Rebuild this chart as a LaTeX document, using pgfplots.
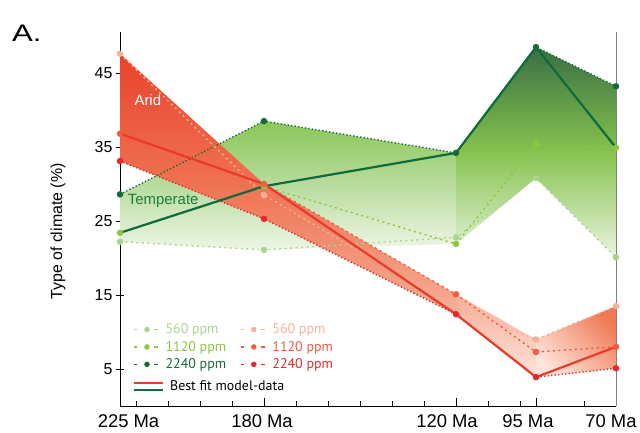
\documentclass[border=0pt]{standalone}
\usepackage{fontspec}
\setmainfont{Liberation Sans}
\newfontfamily\legfont{PT Sans}
\usepackage{pgfplots}
\usepackage{pgfplotstable}
\pgfplotsset{compat=1.18}

% series colours
\definecolor{gA}{HTML}{A9D48E}
\definecolor{gB}{HTML}{8DC63F}
\definecolor{gC}{HTML}{17693A}
\definecolor{rA}{HTML}{F6B09A}
\definecolor{rB}{HTML}{EF5C40}
\definecolor{rC}{HTML}{E8262B}
\definecolor{gFit}{HTML}{0F6B3B}
\definecolor{rFit}{HTML}{EA3A2C}
\definecolor{tempText}{HTML}{1F7A3C}
% shading colours
\definecolor{gS1}{HTML}{8BC657}
\definecolor{gS2}{HTML}{B8DC9E}
\definecolor{gS3}{HTML}{EEF6E6}
\definecolor{gT1}{HTML}{386F44}
\definecolor{gT2}{HTML}{86C34E}
\definecolor{gT3}{HTML}{EAF4E0}
\definecolor{rS1}{HTML}{E8432B}
\definecolor{rS2}{HTML}{EF7252}
\definecolor{rS3}{HTML}{F6AE96}
\definecolor{rS4}{HTML}{FDE3D9}
\definecolor{rS5}{HTML}{F07A55}

% Ma, temperate and arid shares (%) for the three CO2 levels and the best fit
\pgfplotstableread{
ma  g560 g1120 g2240 gfit r560 r1120 r2240 rfit
225 22.2 23.4  28.6  23.4 47.6 36.8  33.1  36.8
180 21.1 29.7  38.5  29.7 28.5 30.0  25.3  30.0
120 22.8 21.9  34.2  34.2 13.2 15.1  12.4  12.4
95  30.8 35.4  48.5  48.5  9.0  7.3   3.9   3.9
70  20.1 34.9  43.2  34.9 13.5  8.0   5.1   8.0
}\climate

\newcommand\ppmkey[1]{\addlegendimage{legend image code/.code={%
  \draw[#1, line width=1.3bp] (0bp,0bp) -- (3.5bp,0bp) (20.5bp,0bp) -- (24bp,0bp);
  \fill[#1] (13bp,0bp) circle (2.5bp);}}}

\pgfplotsset{
  ppm/.style={forget plot, line width=1.4bp, dash pattern=on 2bp off 3.5bp,
    mark=*, mark size=2.5bp, mark options={solid}},
  band/.style={forget plot, draw=none},
}

\begin{document}
\begin{tikzpicture}
\useasboundingbox (0,0) rectangle (640bp,433bp);
\node[anchor=base west, inner sep=0pt, font=\fontsize{24}{24}\selectfont] at (12bp,391bp) {\scalebox{1.3}[1]{A.}};
\begin{axis}[
  at={(120bp,27bp)}, anchor=south west,
  scale only axis, width=496bp, height=373.7bp,
  xmin=-225, xmax=-70, ymin=0, ymax=50.5,
  clip=false,
  axis x line*=bottom, axis y line*=left,
  axis line style={-, black, line width=0.9bp},
  xtick={-225,-180,-120,-95,-70},
  xticklabels={\kern17bp 225 Ma, 180 Ma\kern4bp, 120 Ma\kern18bp, 95 Ma\kern16bp, 70 Ma\kern10bp},
  minor xtick={-220,-210,-200,-190,-170,-160,-150,-140,-130,-110,-100,-80},
  ytick={5,15,25,35,45},
  xtick align=inside, ytick align=center,
  major tick length=8bp, minor tick length=4.5bp,
  tick style={black, line width=0.9bp},
  xticklabel style={font=\fontsize{18.5}{18.5}\selectfont, yshift=-5bp},
  yticklabel style={font=\fontsize{16}{16}\selectfont, /pgf/number format/assume math mode=true},
  ylabel={Type of climate (\%)},
  ylabel style={font=\fontsize{16}{16}\selectfont, at={(axis description cs:-0.125,0.467)}, anchor=center},
  legend columns=2,
  legend cell align=left,
  legend style={draw=none, fill=none, inner sep=0pt, row sep=2bp,
    at={(axis cs:-220.9,11.4)}, anchor=north west,
    font=\legfont\fontsize{14}{14}\selectfont,
    /tikz/every odd column/.append style={column sep=5bp},
    /tikz/every even column/.append style={column sep=12bp}},
]
% temperate band (envelope of the three runs)
\addplot[band, top color=gS1, bottom color=gS3, middle color=gS2] coordinates
  {(-225,28.6) (-180,38.5) (-120,34.2) (-120,21.9) (-180,21.1) (-225,22.2)} -- cycle;
\addplot[band, top color=gT1, bottom color=gT3, middle color=gT2] coordinates
  {(-120,34.2) (-95,48.5) (-70,43.2) (-70,20.1) (-95,30.8) (-120,21.9)} -- cycle;
% arid band
\addplot[band, top color=rS1, bottom color=rS3, middle color=rS2] coordinates
  {(-225,47.6) (-180,30.0) (-120,15.1) (-120,12.4) (-180,25.3) (-225,33.1)} -- cycle;
\addplot[band, top color=rS3, bottom color=rS4] coordinates
  {(-120,15.1) (-95,9.0) (-95,3.9) (-120,12.4)} -- cycle;
\addplot[band, top color=rS5, bottom color=rS4, shading angle=-45] coordinates
  {(-95,9.0) (-70,13.5) (-70,5.1) (-95,3.9)} -- cycle;

% model runs
\addplot[ppm, gA] table[x expr=-\thisrow{ma}, y=g560]{\climate};
\addplot[ppm, gB] table[x expr=-\thisrow{ma}, y=g1120]{\climate};
\addplot[ppm, gC, dash pattern=on 1.3bp off 2.2bp] table[x expr=-\thisrow{ma}, y=g2240]{\climate};
\addplot[ppm, rA] table[x expr=-\thisrow{ma}, y=r560]{\climate};
\addplot[ppm, rB] table[x expr=-\thisrow{ma}, y=r1120]{\climate};
\addplot[ppm, rC, dash pattern=on 1.3bp off 2.2bp] table[x expr=-\thisrow{ma}, y=r2240]{\climate};

% best fit
\addplot[forget plot, gFit, line width=2.2bp] table[x expr=-\thisrow{ma}, y=gfit]{\climate};
\addplot[forget plot, rFit, line width=2.2bp] table[x expr=-\thisrow{ma}, y=rfit]{\climate};

\node[white, font=\fontsize{15}{15}\selectfont] at (axis cs:-216.3,41.3) {Arid};
\node[tempText, anchor=west, inner sep=0pt, font=\fontsize{15}{15}\selectfont] at (axis cs:-222.6,27.7) {Temperate};

\ppmkey{gA}\addlegendentry{\textcolor{gA}{560 ppm}}
\ppmkey{rA}\addlegendentry{\textcolor{rA}{560 ppm}}
\ppmkey{gB}\addlegendentry{\textcolor{gB}{1120 ppm}}
\ppmkey{rB}\addlegendentry{\textcolor{rB}{1120 ppm}}
\ppmkey{gC}\addlegendentry{\textcolor{gC}{2240 ppm}}
\ppmkey{rC}\addlegendentry{\textcolor{rC}{2240 ppm}}

% right-hand frame line and cap on the y axis
\draw[gray, line width=0.9bp] (rel axis cs:1,0) -- (rel axis cs:1,1);
\draw[black, line width=0.9bp] (rel axis cs:0,1) ++(-4bp,0) -- ++(8bp,0);
\end{axis}

\begin{axis}[
  at={(120bp,27bp)}, anchor=south west,
  scale only axis, width=496bp, height=373.7bp,
  xmin=-225, xmax=-70, ymin=0, ymax=50.5,
  hide axis,
  legend style={draw=none, fill=none, inner sep=0pt,
    at={(axis cs:-220.9,2.6)}, anchor=west,
    font=\legfont\fontsize{14}{14}\selectfont,
    /tikz/every odd column/.append style={column sep=4bp}},
]
\addplot[draw=none, forget plot] coordinates {(-225,0) (-70,50.5)};
\addlegendimage{legend image code/.code={%
  \draw[rFit, line width=1.8bp] (0bp,3.6bp) -- (29bp,3.6bp);
  \draw[gFit, line width=1.8bp] (0bp,-3.6bp) -- (29bp,-3.6bp);}}
\addlegendentry{Best fit model-data}
\end{axis}
\end{tikzpicture}
\end{document}
